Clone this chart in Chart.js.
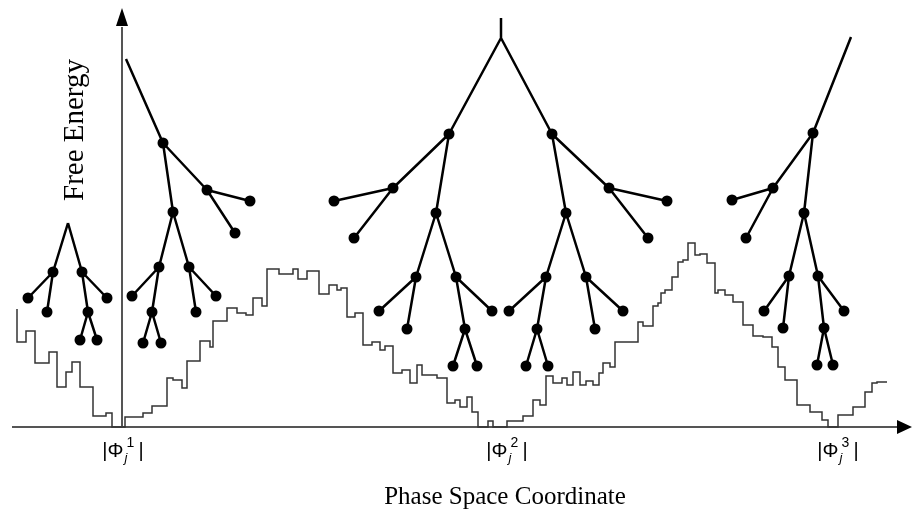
<!DOCTYPE html>
<html>
<head>
<meta charset="utf-8">
<script src="https://cdn.jsdelivr.net/npm/chart.js@4/dist/chart.umd.min.js"></script>
<style>
    html, body { margin: 0; padding: 0; background: #fff; }
    #wrap { width: 912px; height: 524px; }
</style>
</head>
<body>
<div id="wrap"><canvas id="landscape"></canvas></div>
<script>
// Энергетический ландшафт (ступенчатая кривая)
const stepX = [17, 17, 26, 35, 49, 57, 66, 72, 80, 93, 106, 112, 125, 143, 152, 167, 173, 182, 187, 200,
    210, 213, 227, 237, 246, 253, 262, 267, 279, 293, 298, 307, 319, 329, 337, 341, 347, 355, 363, 372,
    380, 385, 393, 402, 410, 417, 422, 437, 447, 455, 460, 467, 472, 478, 488, 493, 507, 523, 533, 540,
    546, 553, 562, 567, 573, 580, 586, 593, 599, 603, 610, 615, 638, 643, 653, 658, 661, 665, 672, 678,
    683, 688, 695, 700, 707, 715, 718, 725, 733, 743, 753, 763, 772, 778, 785, 797, 810, 822, 828, 838,
    853, 865, 872, 877, 887];
const stepE = [118, 85, 96, 64, 75, 40, 55, 65, 40, 11, 14, 0, 10, 14, 21, 49, 47, 39, 66, 86,
    80, 106, 119, 114, 112, 129, 121, 158, 153, 158, 148, 156, 133, 142, 137, 139, 110, 114, 82, 85,
    77, 81, 54, 57, 44, 62, 52, 49, 24, 27, 20, 30, 15, 0, 6, 0, 6, 11, 27, 22,
    51, 44, 49, 42, 55, 42, 46, 42, 54, 64, 60, 85, 105, 101, 121, 124, 134, 137, 150, 165,
    167, 184, 172, 173, 164, 134, 137, 132, 125, 102, 91, 90, 80, 60, 47, 22, 15, 7, 0, 12,
    20, 35, 44, 45, 45];

// Деревья состояний: координаты узлов и индекс родителя
const tree1X = [68, 53, 82, 28, 47, 107, 88, 80, 97];
const tree1E = [204, 155, 155, 129, 115, 129, 115, 87, 87];
const tree1Parent = [-1, 0, 0, 1, 1, 2, 2, 6, 6];
const tree1Bare = [0];

const tree2X = [126, 163, 207, 250, 235, 173, 159, 189, 132, 152, 143, 161, 196, 216];
const tree2E = [368, 284, 237, 226, 194, 215, 160, 160, 131, 115, 84, 84, 115, 131];
const tree2Parent = [-1, 0, 1, 2, 2, 1, 5, 5, 6, 6, 9, 9, 7, 7];
const tree2Bare = [0];

const tree3X = [501, 501, 449, 552, 393, 334, 354, 436, 416, 456, 379, 407, 492, 465, 453, 477,
    609, 667, 648, 566, 546, 586, 509, 537, 526, 548, 595, 623];
const tree3E = [409, 389, 293, 293, 239, 226, 189, 214, 150, 150, 116, 98, 116, 98, 61, 61,
    239, 226, 189, 214, 150, 150, 116, 98, 61, 61, 98, 116];
const tree3Parent = [-1, 0, 1, 1, 2, 4, 4, 2, 7, 7, 8, 8, 9, 9, 13, 13,
    3, 16, 16, 3, 19, 19, 20, 20, 23, 23, 21, 21];
const tree3Bare = [0, 1];

const tree4X = [851, 813, 773, 732, 746, 804, 789, 818, 764, 783, 844, 824, 817, 833];
const tree4E = [390, 294, 239, 227, 189, 214, 151, 151, 116, 99, 116, 99, 62, 62];
const tree4Parent = [-1, 0, 1, 2, 2, 1, 5, 5, 6, 6, 7, 7, 11, 11];
const tree4Bare = [0];

// Подписи
const minimaX = [123, 507, 838];
const minimaIndex = ['1', '2', '3'];
const yAxisX = 122;
const xTitle = 'Phase Space Coordinate';
const yTitle = 'Free Energy';

const trees = [
    [tree1X, tree1E, tree1Parent, tree1Bare],
    [tree2X, tree2E, tree2Parent, tree2Bare],
    [tree3X, tree3E, tree3Parent, tree3Bare],
    [tree4X, tree4E, tree4Parent, tree4Bare]
];

function treeEdges(xs, es, parents) {
    const pts = [];
    parents.forEach((p, i) => {
        if (p < 0) return;
        pts.push({ x: xs[p], y: es[p] }, { x: xs[i], y: es[i] }, { x: xs[i], y: null });
    });
    return pts;
}

function treeDots(xs, es, bare) {
    return xs.map((x, i) => ({ x: x, y: es[i] })).filter((_, i) => !bare.includes(i));
}

const datasets = [{
    data: stepX.map((x, i) => ({ x: x, y: stepE[i] })),
    showLine: true,
    stepped: 'before',
    borderColor: '#333',
    borderWidth: 1.5,
    pointRadius: 0
}];

trees.forEach(t => {
    datasets.push({
        data: treeEdges(t[0], t[1], t[2]),
        showLine: true,
        spanGaps: false,
        borderColor: '#000',
        borderWidth: 2.5,
        pointRadius: 0
    });
    datasets.push({
        data: treeDots(t[0], t[1], t[3]),
        showLine: false,
        pointRadius: 5.5,
        pointBackgroundColor: '#000',
        pointBorderWidth: 0
    });
});

// Оси со стрелками
const axesPlugin = {
    id: 'axes',
    beforeDatasetsDraw(chart) {
        const ctx = chart.ctx;
        const xs = chart.scales.x, ys = chart.scales.y;
        const y0 = ys.getPixelForValue(0);
        const ax = xs.getPixelForValue(yAxisX);
        ctx.save();
        ctx.strokeStyle = '#555';
        ctx.lineWidth = 2;
        ctx.beginPath();
        ctx.moveTo(xs.getPixelForValue(12), y0);
        ctx.lineTo(xs.getPixelForValue(900), y0);
        ctx.moveTo(ax, y0);
        ctx.lineTo(ax, ys.getPixelForValue(400));
        ctx.stroke();
        ctx.fillStyle = '#000';
        const tipX = xs.getPixelForValue(912);
        ctx.beginPath();
        ctx.moveTo(tipX, y0);
        ctx.lineTo(tipX - 15, y0 - 7);
        ctx.lineTo(tipX - 15, y0 + 7);
        ctx.closePath();
        ctx.fill();
        const tipY = ys.getPixelForValue(419);
        ctx.beginPath();
        ctx.moveTo(ax, tipY);
        ctx.lineTo(ax - 6, tipY + 18);
        ctx.lineTo(ax + 6, tipY + 18);
        ctx.closePath();
        ctx.fill();
        ctx.restore();
    },
    afterDraw(chart) {
        const ctx = chart.ctx;
        const xs = chart.scales.x, ys = chart.scales.y;
        ctx.save();
        ctx.fillStyle = '#000';
        // Название оси X
        ctx.font = '25px "Liberation Serif", serif';
        ctx.textAlign = 'center';
        ctx.textBaseline = 'middle';
        ctx.fillText(xTitle, xs.getPixelForValue(505), ys.getPixelForValue(-70));
        // Название оси Y
        ctx.save();
        ctx.translate(xs.getPixelForValue(75), ys.getPixelForValue(297));
        ctx.rotate(-Math.PI / 2);
        ctx.font = '29px "Liberation Serif", serif';
        ctx.fillText(yTitle, 0, 0);
        ctx.restore();
        // Подписи минимумов |Φ_j^n|
        const base = ys.getPixelForValue(0) + 30;
        minimaX.forEach((v, i) => {
            ctx.textAlign = 'left';
            ctx.textBaseline = 'alphabetic';
            ctx.font = '20px "Liberation Sans", Arial, sans-serif';
            const bar = ctx.measureText('|').width;
            const phi = ctx.measureText('Φ').width;
            const total = bar + phi + 15 + bar;
            let x = xs.getPixelForValue(v) - total / 2;
            ctx.fillText('|', x, base);
            x += bar;
            ctx.fillText('Φ', x, base);
            x += phi + 1;
            ctx.font = 'italic 13px "Liberation Sans", Arial, sans-serif';
            ctx.fillText('j', x, base + 5);
            ctx.font = '14px "Liberation Sans", Arial, sans-serif';
            ctx.fillText(minimaIndex[i], x + 2, base - 10);
            x += 14;
            ctx.font = '20px "Liberation Sans", Arial, sans-serif';
            ctx.fillText('|', x, base);
        });
        ctx.restore();
    }
};

document.addEventListener('DOMContentLoaded', () => {
    new Chart(document.getElementById('landscape'), {
        type: 'scatter',
        data: { datasets: datasets },
        options: {
            responsive: true,
            maintainAspectRatio: false,
            animation: false,
            layout: { padding: 0, autoPadding: false },
            plugins: { legend: { display: false }, tooltip: { enabled: false } },
            scales: {
                x: { type: 'linear', min: 0, max: 912, display: false },
                y: { type: 'linear', min: -97, max: 427, display: false }
            }
        },
        plugins: [axesPlugin]
    });
});
</script>
</body>
</html>
